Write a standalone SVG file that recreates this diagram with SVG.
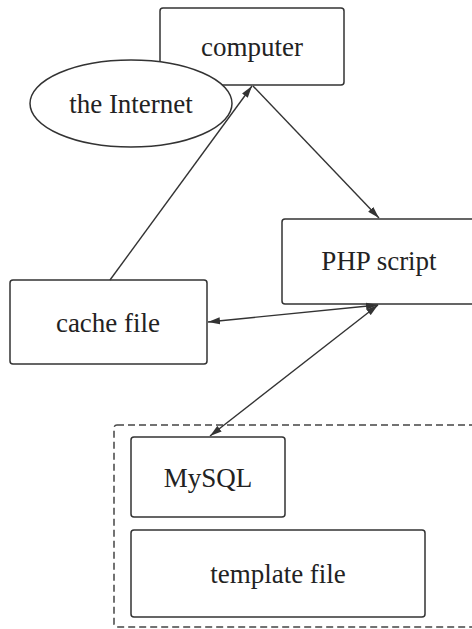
<svg xmlns="http://www.w3.org/2000/svg" width="472" height="629" viewBox="0 0 472 629">
<style>
.box{fill:#fff;stroke:#333;stroke-width:1.5}
.lbl{font-family:"Liberation Serif","Times New Roman",serif;font-size:27px;fill:#222;text-anchor:middle}
.edge{stroke:#333;stroke-width:1.4;fill:none}
</style>
<defs>
<marker id="ah" viewBox="0 0 12 8" refX="12" refY="4" markerWidth="12" markerHeight="8" markerUnits="userSpaceOnUse" orient="auto-start-reverse">
<path d="M0,0.5 L12,4 L0,7.5 Z" fill="#333"/>
</marker>
</defs>
<rect width="472" height="629" fill="#fff"/>
<g id="group-dashed">
<rect x="114" y="425" width="380" height="202" rx="3" fill="none" stroke="#444" stroke-width="1.5" stroke-dasharray="7,4"/>
</g>
<g id="computer">
<rect class="box" x="160" y="8" width="184" height="77" rx="3"/>
<text class="lbl" x="252" y="56">computer</text>
</g>
<g id="internet">
<ellipse class="box" cx="131" cy="103.5" rx="101" ry="43.5"/>
<text class="lbl" x="131" y="113">the Internet</text>
</g>
<g id="php">
<rect class="box" x="282" y="219" width="210" height="85" rx="3"/>
<text class="lbl" x="379" y="270">PHP script</text>
</g>
<g id="cache">
<rect class="box" x="10" y="280" width="197" height="84" rx="3"/>
<text class="lbl" x="108" y="332">cache file</text>
</g>
<g id="mysql">
<rect class="box" x="131" y="437" width="154" height="80" rx="3"/>
<text class="lbl" x="208" y="487">MySQL</text>
</g>
<g id="template">
<rect class="box" x="131" y="530" width="294" height="87" rx="3"/>
<text class="lbl" x="278" y="583">template file</text>
</g>
<g id="connectors">
<line class="edge" x1="110" y1="280" x2="252" y2="86" marker-end="url(#ah)"/>
<line class="edge" x1="253" y1="86" x2="379" y2="218" marker-end="url(#ah)"/>
<line class="edge" x1="378" y1="305" x2="208" y2="322" marker-start="url(#ah)" marker-end="url(#ah)"/>
<line class="edge" x1="378" y1="305" x2="210" y2="436" marker-start="url(#ah)" marker-end="url(#ah)"/>
</g>
</svg>
